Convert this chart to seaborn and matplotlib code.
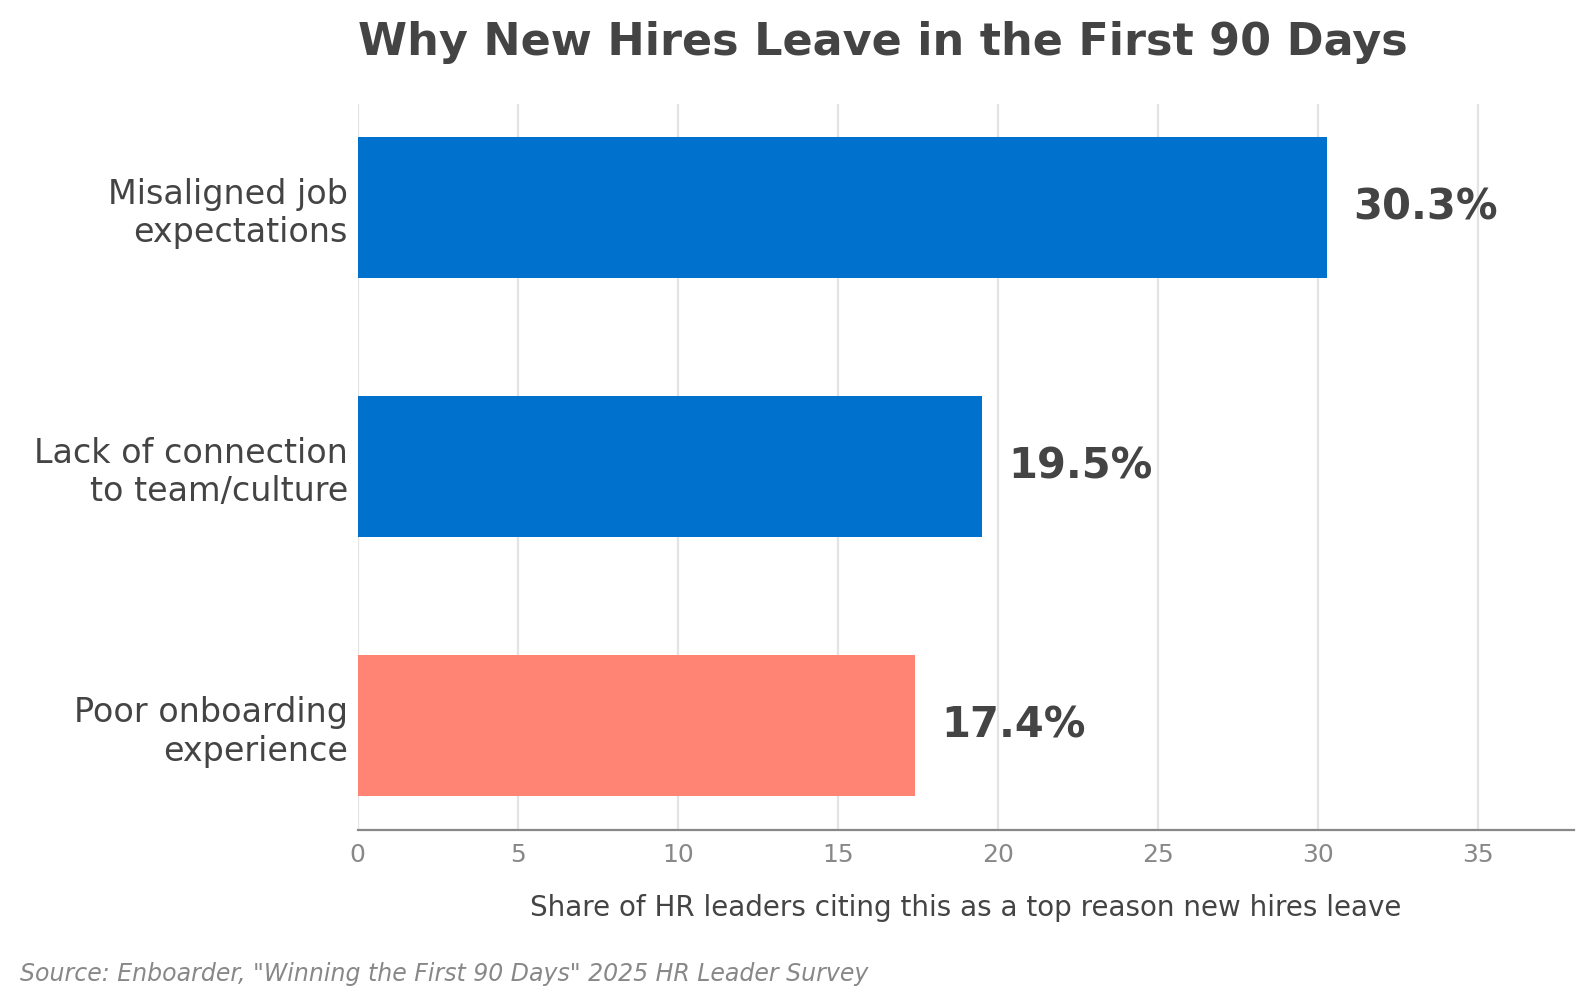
import matplotlib
matplotlib.use("Agg")
import matplotlib.pyplot as plt
import seaborn as sns
import pandas as pd

categories = ["Misaligned job\nexpectations", "Lack of connection\nto team/culture", "Poor onboarding\nexperience"]
values = [30.3, 19.5, 17.4]
bar_colors = ["#0072CE", "#0072CE", "#FF8474"]
value_labels = ["30.3%", "19.5%", "17.4%"]
x_ticks = [0, 5, 10, 15, 20, 25, 30, 35]

title = "Why New Hires Leave in the First 90 Days"
xlabel = "Share of HR leaders citing this as a top reason new hires leave"
source = "Source: Enboarder, \"Winning the First 90 Days\" 2025 HR Leader Survey"

sns.set_theme(style="white")
plt.rcParams['font.family'] = ['DejaVu Sans']

df = pd.DataFrame({"reason": categories, "share": values})

fig = plt.figure(figsize=(7.97, 5.025), dpi=200)
ax = fig.add_axes([357.8/1594, 1 - 829.5/1005, (1573.6-357.8)/1594, (829.5-103.7)/1005])

sns.barplot(data=df, y="reason", x="share", hue="reason", palette=bar_colors,
            orient="h", width=0.545, legend=False, ax=ax, saturation=1, zorder=3,
            linewidth=0)

ax.set_xlim(0, 38)
ax.set_ylim(2.4, -0.4)
ax.set_xticks(x_ticks)
ax.xaxis.grid(True, color="#e3e3e3", linewidth=0.8, zorder=0)
ax.yaxis.grid(False)
ax.set_axisbelow(True)
for s in ["top", "right", "left"]:
    ax.spines[s].set_visible(False)
ax.spines["bottom"].set_color("#888888")
ax.spines["bottom"].set_linewidth(0.8)
ax.tick_params(axis="x", length=0, pad=5, labelsize=9, labelcolor="#888888")
ax.tick_params(axis="y", length=0, pad=3.6, labelsize=12, labelcolor="#444444")
ax.set_ylabel("")
ax.set_xlabel(xlabel, fontsize=10, color="#444444", labelpad=9.6)

for i, (v, lab) in enumerate(zip(values, value_labels)):
    ax.annotate(lab, xy=(v, i), xytext=(9.5, 0), textcoords="offset points",
                va="center", ha="left", fontsize=15, fontweight="bold", color="#444444")

ax.set_title(title, loc="left", fontsize=16, fontweight="bold", color="#444444", pad=17.5)
fig.text(20.3/1594, 24/1005, source, fontsize=8.5, style="italic", color="#888888", ha="left", va="baseline")

fig.savefig("out.png", dpi=200)
